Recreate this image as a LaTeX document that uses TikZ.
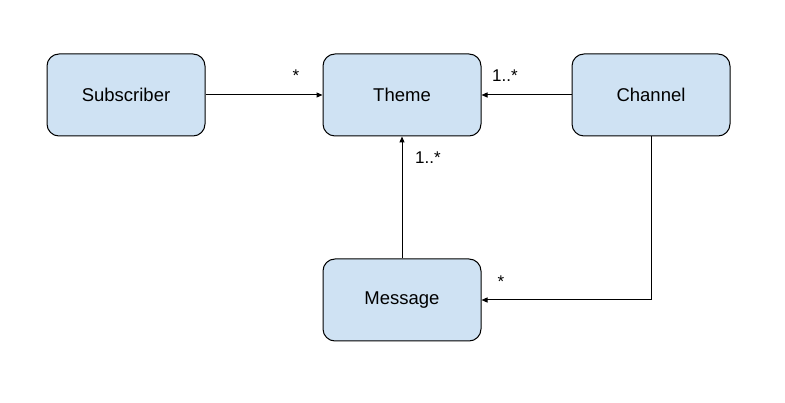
\documentclass[tikz,border=0pt]{standalone}
\usepackage{fontspec}
\setmainfont{Liberation Sans}
\usetikzlibrary{arrows.meta}
\definecolor{boxfill}{HTML}{CFE2F3}
\begin{document}
\begin{tikzpicture}[x=1pt,y=-1pt,
  entity/.style={draw=black, line width=1pt, fill=boxfill, rounded corners=12pt,
    minimum width=158pt, minimum height=82pt, inner sep=0pt,
    font=\fontsize{18.5}{20}\selectfont},
  link/.style={line width=1pt, -{Triangle[length=6pt,width=5pt]}},
  mult/.style={font=\fontsize{17}{18}\selectfont, inner sep=0pt}]
  \useasboundingbox (0,0) rectangle (785,403);
  \node[entity] (sub) at (126,95) {Subscriber};
  \node[entity] (theme) at (402,95) {Theme};
  \node[entity] (chan) at (651,95) {Channel};
  \node[entity] (msg) at (402,300) {Message};
  \coordinate (corner) at (chan.south |- msg.east);
  \draw[link] (sub.east) -- (theme.west);
  \draw[link] (chan.west) -- (theme.east);
  \draw[link] (msg.north) -- (theme.south);
  \draw[link] (chan.south) -- (corner) -- (msg.east);
  \node[mult] (m1) at (296,76) {*};
  \node[mult] (m2) at (505,76) {1..*};
  \node[mult] (m3) at (428,158) {1..*};
  \node[mult] (m4) at (501,282) {*};
\end{tikzpicture}
\end{document}
